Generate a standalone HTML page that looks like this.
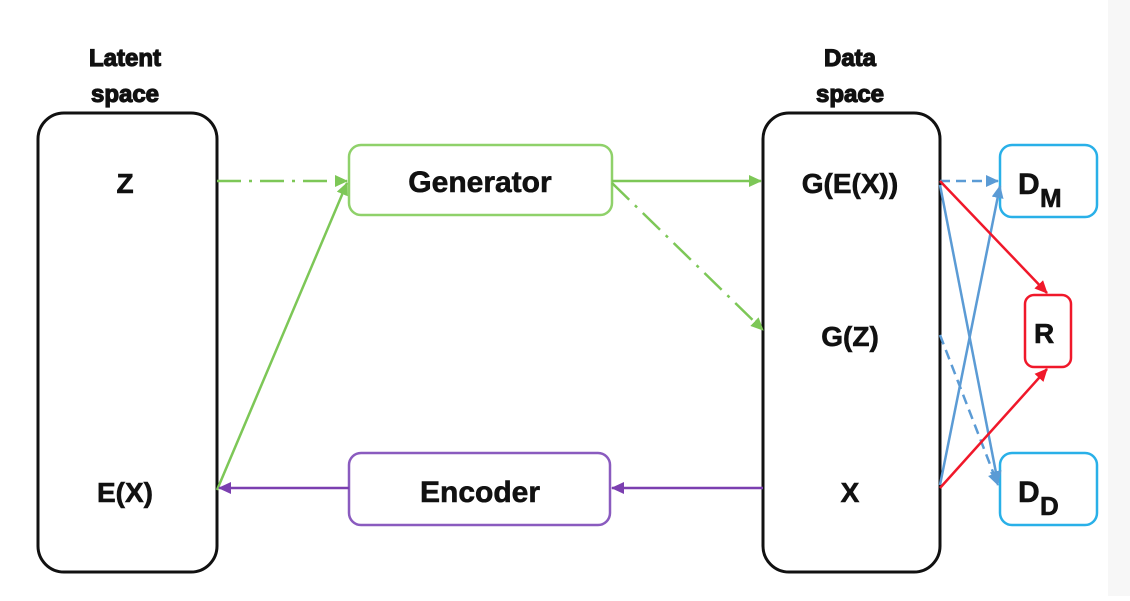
<!DOCTYPE html>
<html><head><meta charset="utf-8"><style>
body{margin:0;background:#fff;}
svg text{font-family:"Liberation Sans",Arial,sans-serif;font-weight:bold;fill:#111;}
</style></head><body>
<svg width="1130" height="596" viewBox="0 0 1130 596" xmlns="http://www.w3.org/2000/svg">
<defs>
<marker id="ag" markerWidth="13" markerHeight="12" refX="12" refY="6" orient="auto" markerUnits="userSpaceOnUse"><path d="M0,0 L13,6 L0,12 z" fill="#7dc757"/></marker>
<marker id="ap" markerWidth="13" markerHeight="12" refX="12" refY="6" orient="auto" markerUnits="userSpaceOnUse"><path d="M0,0 L13,6 L0,12 z" fill="#7b3fb0"/></marker>
<marker id="ab" markerWidth="13" markerHeight="12" refX="12" refY="6" orient="auto" markerUnits="userSpaceOnUse"><path d="M0,0 L13,6 L0,12 z" fill="#5b9bd5"/></marker>
<marker id="ar" markerWidth="13" markerHeight="12" refX="12" refY="6" orient="auto" markerUnits="userSpaceOnUse"><path d="M0,0 L13,6 L0,12 z" fill="#f0182a"/></marker>
</defs>
<rect x="1108" y="0" width="22" height="596" fill="#f7f7f7"/>
<g stroke="#111" stroke-width="1.2">
<text x="125" y="66" font-size="24" text-anchor="middle">Latent</text>
<text x="125" y="102" font-size="24" text-anchor="middle">space</text>
<text x="850" y="66" font-size="24" text-anchor="middle">Data</text>
<text x="850" y="102" font-size="24" text-anchor="middle">space</text>
</g>
<rect x="38" y="113" width="179" height="459" rx="26" fill="none" stroke="#111" stroke-width="3"/>
<rect x="763" y="113" width="177" height="459" rx="26" fill="none" stroke="#111" stroke-width="3"/>
<rect x="349" y="145" width="263" height="70" rx="12" fill="none" stroke="#8fd16a" stroke-width="2.5"/>
<rect x="349" y="453" width="261" height="72" rx="12" fill="none" stroke="#8a5bbf" stroke-width="2.5"/>
<rect x="1000" y="145" width="97" height="72" rx="12" fill="none" stroke="#29b0e8" stroke-width="2.5"/>
<rect x="1025" y="295" width="46" height="72" rx="9" fill="none" stroke="#f0182a" stroke-width="2.5"/>
<rect x="1000" y="453" width="97" height="72" rx="12" fill="none" stroke="#29b0e8" stroke-width="2.5"/>
<g stroke="#111" stroke-width="0.6">
<text x="125" y="193" font-size="28" text-anchor="middle">Z</text>
<text x="125" y="502" font-size="28" text-anchor="middle">E(X)</text>
<text x="480" y="192" font-size="30" text-anchor="middle">Generator</text>
<text x="480" y="502" font-size="30" text-anchor="middle">Encoder</text>
<text x="850" y="193" font-size="28" text-anchor="middle">G(E(X))</text>
<text x="850" y="346" font-size="28" text-anchor="middle">G(Z)</text>
<text x="850" y="502" font-size="28" text-anchor="middle">X</text>
<text x="1018" y="194" font-size="30">D</text><text x="1040" y="207" font-size="26">M</text>
<text x="1034" y="343" font-size="28">R</text>
<text x="1018" y="502" font-size="30">D</text><text x="1040" y="515" font-size="26">D</text>
</g>
<g stroke-width="2.5" fill="none">
<line x1="217" y1="181" x2="347" y2="181" stroke="#7dc757" stroke-dasharray="24,8,3,8" marker-end="url(#ag)"/>
<line x1="217" y1="490" x2="347" y2="183" stroke="#7dc757" marker-end="url(#ag)"/>
<line x1="612" y1="181" x2="761" y2="181" stroke="#7dc757" marker-end="url(#ag)"/>
<line x1="612" y1="183" x2="763" y2="330" stroke="#7dc757" stroke-dasharray="24,8,3,8" marker-end="url(#ag)"/>
<line x1="763" y1="488" x2="612" y2="488" stroke="#7b3fb0" marker-end="url(#ap)"/>
<line x1="349" y1="488" x2="219" y2="488" stroke="#7b3fb0" marker-end="url(#ap)"/>
<line x1="940" y1="181" x2="998" y2="181" stroke="#5b9bd5" stroke-dasharray="10,6" marker-end="url(#ab)"/>
<line x1="940" y1="185" x2="998" y2="483" stroke="#5b9bd5" marker-end="url(#ab)"/>
<line x1="940" y1="485" x2="1000" y2="186" stroke="#5b9bd5" marker-end="url(#ab)"/>
<line x1="940" y1="335" x2="998" y2="485" stroke="#5b9bd5" stroke-dasharray="10,6" marker-end="url(#ab)"/>
<line x1="940" y1="181" x2="1047" y2="293" stroke="#f0182a" marker-end="url(#ar)"/>
<line x1="940" y1="488" x2="1047" y2="369" stroke="#f0182a" marker-end="url(#ar)"/>
</g>
</svg>
</body></html>
